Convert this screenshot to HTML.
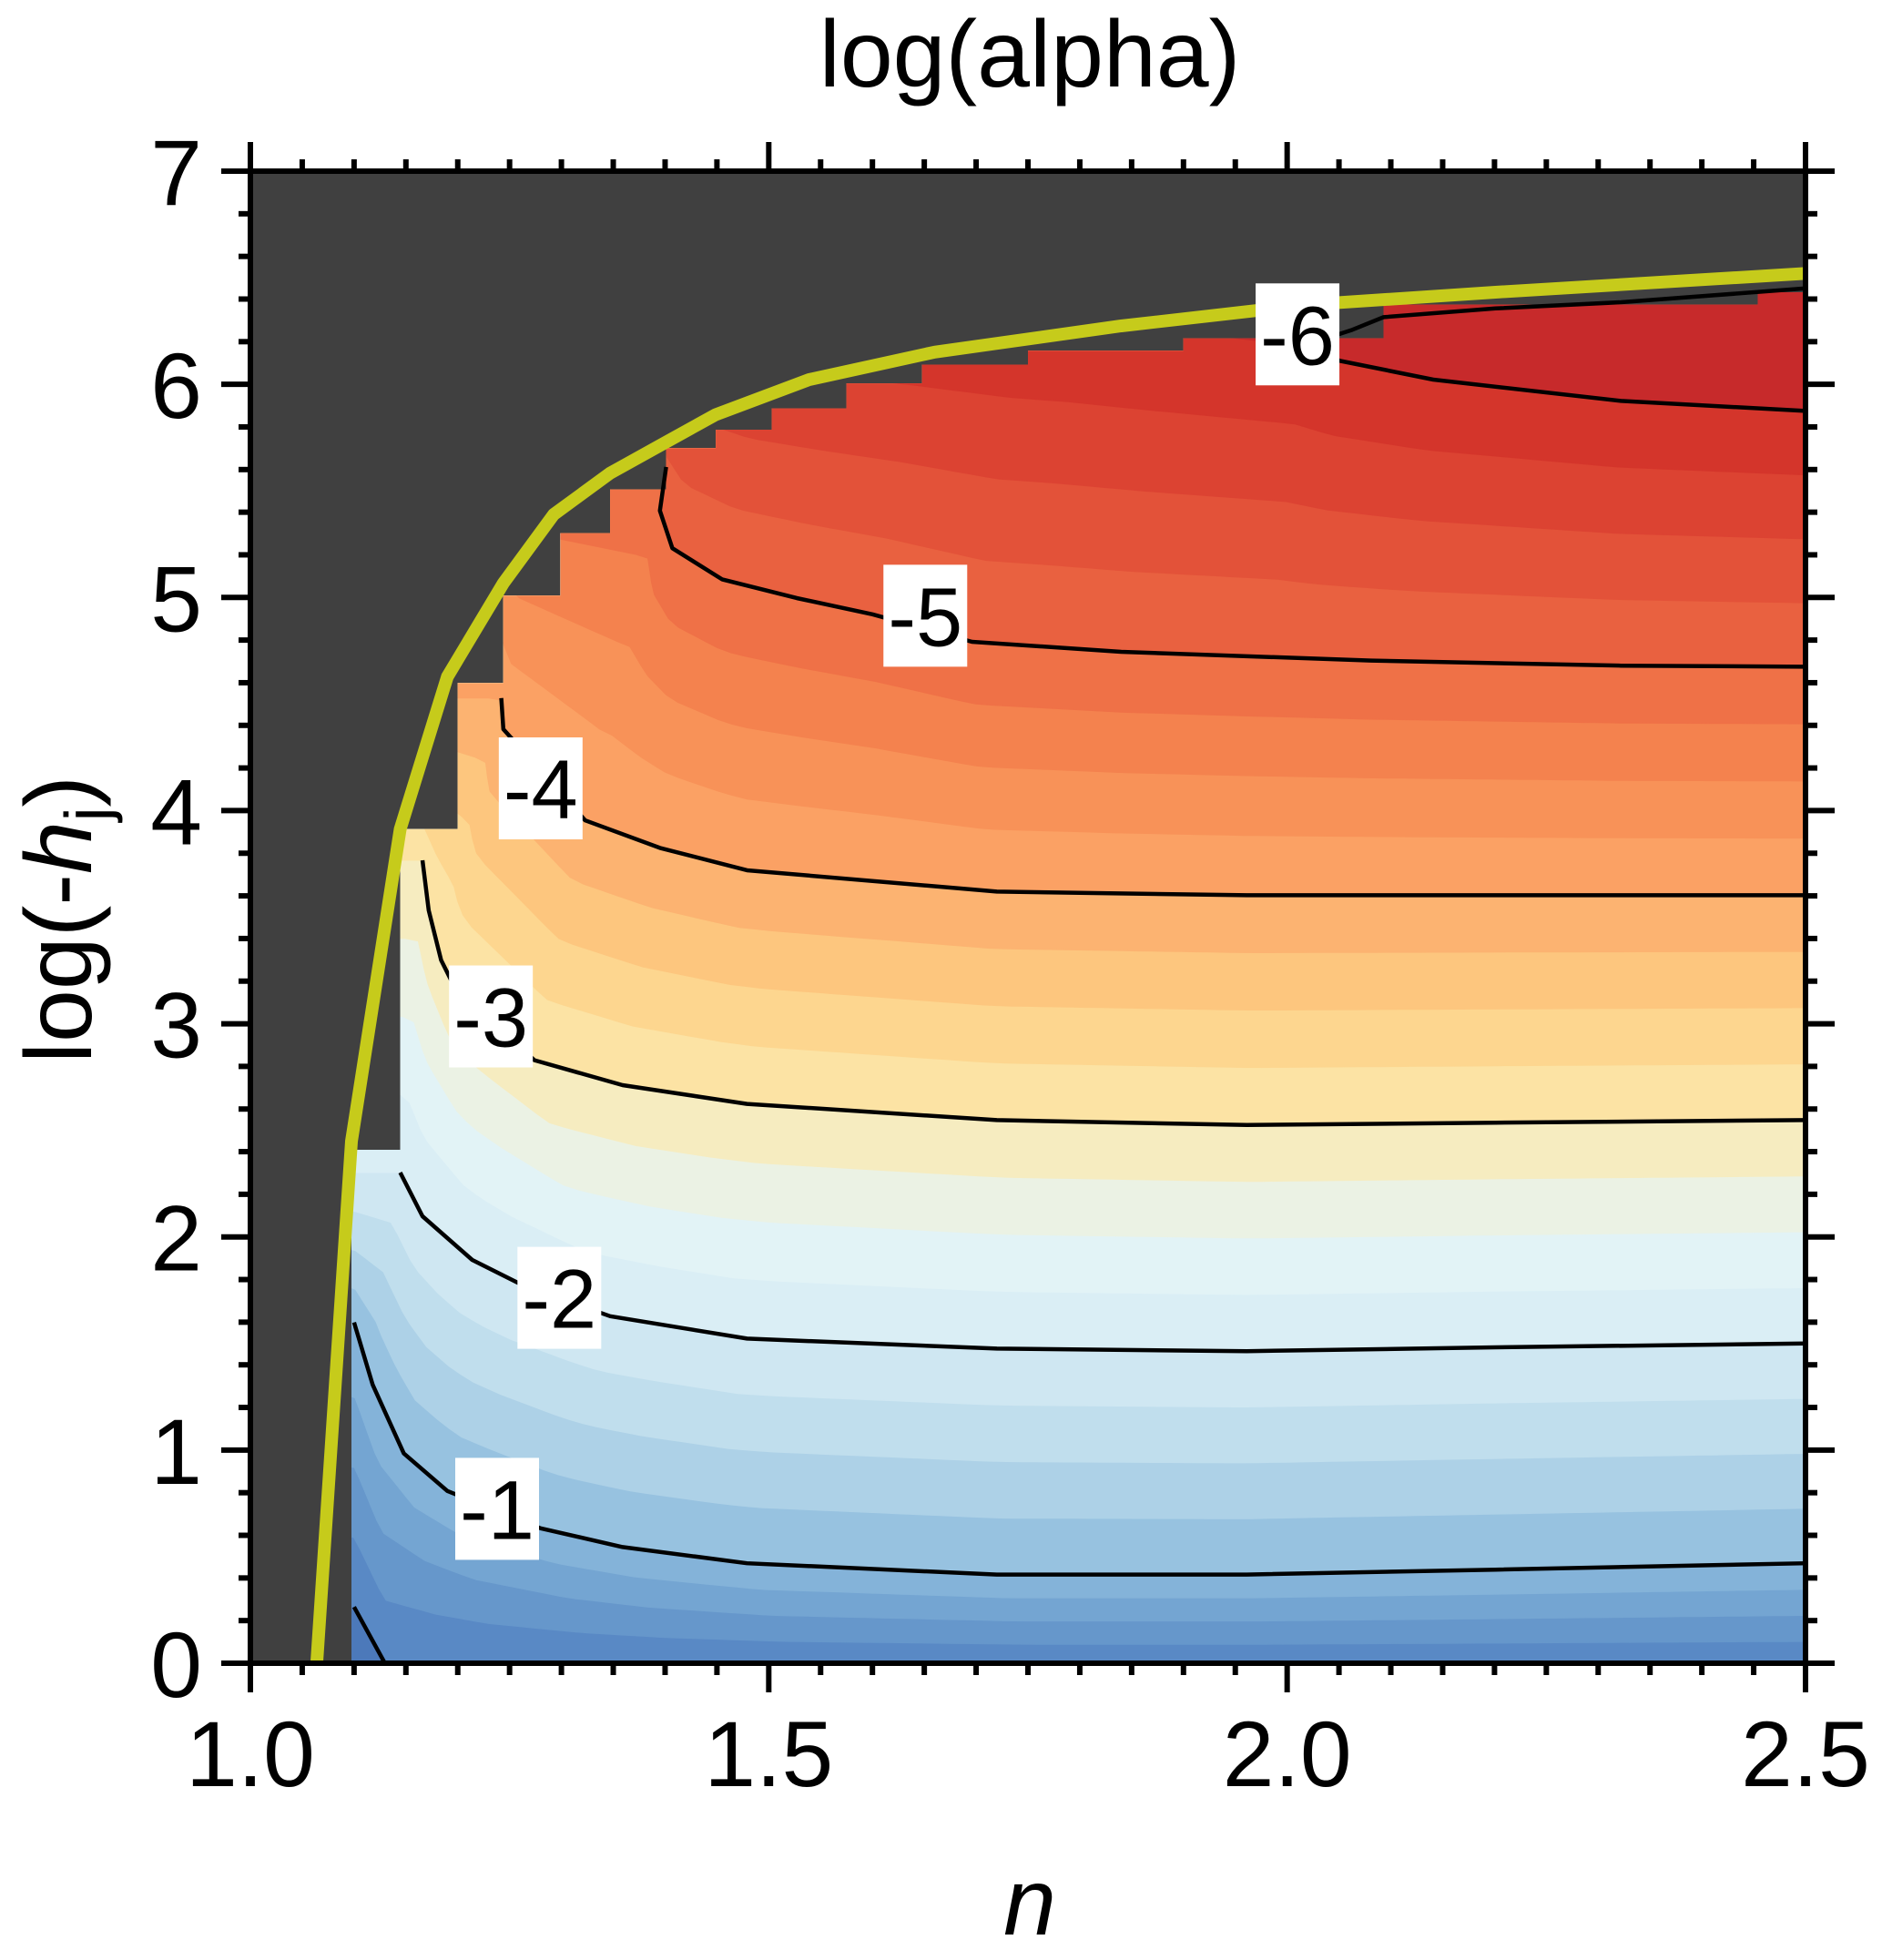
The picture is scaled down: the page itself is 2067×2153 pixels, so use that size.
<!DOCTYPE html>
<html><head><meta charset="utf-8"><style>
html,body{margin:0;padding:0;background:#fff}
svg text{font-family:"Liberation Sans",sans-serif;fill:#000}
</style></head><body>
<svg id="chart" width="2067" height="2148" viewBox="0 0 2067 2148" xmlns="http://www.w3.org/2000/svg">
<defs><clipPath id="plotClip"><rect x="275" y="188" width="1708" height="1639"/></clipPath>
<clipPath id="validClip"><polygon id="validPoly" points=""/></clipPath></defs>
<text x="1131" y="95" font-size="104" text-anchor="middle">log(alpha)</text>
<rect x="275" y="188" width="1708" height="1639" fill="#404040"/>
<g id="fills" clip-path="url(#validClip)"></g>
<g id="lines" clip-path="url(#plotClip)"></g>
<g id="boundary" clip-path="url(#plotClip)"></g>
<g id="labels"></g>
<g id="axes"></g>
<text x="1131" y="2125" font-size="104" font-style="italic" text-anchor="middle">n</text>
<text transform="translate(100,1010) rotate(-90)" font-size="104" text-anchor="middle">log(-<tspan font-style="italic">h</tspan><tspan font-size="70" dy="20">j</tspan><tspan dy="-20">)</tspan></text>
</svg>
<script>
const xTicks=[1.0,1.5,2.0,2.5];
const xTickLabels=["1.0","1.5","2.0","2.5"];
const yTicks=[0,1,2,3,4,5,6,7];
const yTickLabels=["0","1","2","3","4","5","6","7"];
const contourLevels=[0,-1,-2,-3,-4,-5,-6];
const line0=[[1.100,0.264],[1.132,-0.02],[2.5,-0.02]];
const lineM1=[[1.100,1.599],[1.118,1.306],[1.148,0.984],[1.190,0.808],[1.280,0.633],[1.359,0.545],[1.479,0.469],[1.720,0.416],[1.961,0.416],[2.201,0.439],[2.5,0.469]];
const lineM2=[[1.1445,2.302],[1.166,2.097],[1.214,1.892],[1.262,1.775],[1.347,1.628],[1.479,1.523],[1.720,1.476],[1.961,1.464],[2.201,1.482],[2.5,1.500]];
const lineM3=[[1.166,3.767],[1.172,3.532],[1.184,3.298],[1.196,3.181],[1.274,2.829],[1.359,2.712],[1.479,2.624],[1.720,2.548],[1.961,2.525],[2.201,2.536],[2.5,2.548]];
const lineM4=[[1.242,4.528],[1.244,4.382],[1.323,3.954],[1.395,3.825],[1.479,3.720],[1.720,3.620],[1.961,3.603],[2.201,3.603],[2.5,3.603]];
const lineM5=[[1.401,5.612],[1.395,5.407],[1.407,5.231],[1.455,5.085],[1.527,4.997],[1.600,4.921],[1.696,4.792],[1.840,4.745],[2.081,4.704],[2.322,4.680],[2.5,4.675]];
const lineM6=[[2.5,6.450],[2.322,6.385],[2.201,6.356],[2.093,6.315],[2.063,6.256],[2.015,6.180],[2.051,6.110],[2.141,6.022],[2.322,5.922],[2.5,5.875]];
const fillM6=[[1.0,6.6],[1.8,6.3],[2.015,6.18],[2.051,6.110],[2.141,6.022],[2.322,5.922],[2.5,5.875]];
const validRegion=[[1.0975,0],[1.0975,2.408],[1.1445,2.408],[1.1445,3.913],[1.200,3.913],[1.200,4.598],[1.244,4.598],[1.244,5.008],[1.299,5.008],[1.299,5.301],[1.347,5.301],[1.347,5.506],[1.401,5.506],[1.401,5.700],[1.449,5.700],[1.449,5.787],[1.503,5.787],[1.503,5.887],[1.575,5.887],[1.575,6.004],[1.648,6.004],[1.648,6.092],[1.750,6.092],[1.750,6.157],[1.900,6.157],[1.900,6.215],[2.093,6.215],[2.093,6.373],[2.454,6.373],[2.454,6.432],[2.5,6.432],[2.5,0]];
const boundaryCurve=[[1.064,0],[1.0975,2.449],[1.1445,3.913],[1.190,4.628],[1.244,5.067],[1.2925,5.389],[1.347,5.583],[1.401,5.729],[1.449,5.858],[1.539,6.022],[1.660,6.151],[1.840,6.274],[2.021,6.374],[2.201,6.432],[2.5,6.52]];
const labelText=["-1","-2","-3","-4","-5","-6"];
const labelPos=[[1.238,0.72],[1.298,1.71],[1.232,3.03],[1.280,4.10],[1.651,4.91],[2.010,6.23]];

const NS="http://www.w3.org/2000/svg";
const X0=275,X1=1983,Y0=1827,Y1=188;
const X=n=>X0+(n-1)/1.5*(X1-X0);
const Y=h=>Y0-h/7*(Y0-Y1);
function mk(tag,attrs,parent){const e=document.createElementNS(NS,tag);for(const k in attrs)e.setAttribute(k,attrs[k]);parent.appendChild(e);return e;}
const stops=[[0.3,[70,112,178]],[0,[82,130,194]],[-0.5,[108,158,206]],[-1,[140,186,220]],[-1.5,[184,217,235]],[-2,[214,235,244]],[-2.5,[230,245,246]],[-3,[251,233,174]],[-3.5,[253,208,133]],[-4,[252,169,106]],[-4.5,[247,138,82]],[-5,[236,104,67]],[-5.5,[224,74,53]],[-6,[208,46,39]],[-6.5,[193,39,45]]];
function color(v){for(let i=0;i<stops.length-1;i++){const a=stops[i],b=stops[i+1];if(v<=a[0]&&v>=b[0]){const t=(a[0]-v)/(a[0]-b[0]);const c=a[1].map((x,j)=>Math.round(x+(b[1][j]-x)*t));return`rgb(${c})`;}}return v>0?`rgb(${stops[0][1]})`:`rgb(${stops[stops.length-1][1]})`;}
function toPx(p){return p.map(q=>[X(q[0]),Y(q[1])]);}
function resample(pts,N){const d=[0];for(let i=1;i<pts.length;i++)d.push(d[i-1]+Math.hypot(pts[i][0]-pts[i-1][0],pts[i][1]-pts[i-1][1]));const L=d[d.length-1],out=[];let j=0;for(let k=0;k<N;k++){const s=L*k/(N-1);while(j<pts.length-2&&d[j+1]<s)j++;const t=(s-d[j])/((d[j+1]-d[j])||1);out.push([pts[j][0]+(pts[j+1][0]-pts[j][0])*t,pts[j][1]+(pts[j+1][1]-pts[j][1])*t]);}return out;}
document.getElementById('validPoly').setAttribute('points',toPx(validRegion).map(p=>p.join(',')).join(' '));
const fills=document.getElementById('fills');
const fillLines=[line0,lineM1,lineM2,lineM3,lineM4,lineM5,fillM6].map(l=>{const p=toPx(l);p.unshift([X0-60,p[0][1]]);p.push([X1+60,p[p.length-1][1]]);return resample(p,120);});
function above(curve,fillc,name){const pts=curve.slice();pts.push([X1+60,Y1-100]);pts.push([X0-60,Y1-100]);const e=mk('polygon',{points:pts.map(p=>p[0].toFixed(1)+','+p[1].toFixed(1)).join(' '),fill:fillc,stroke:fillc,'stroke-width':1},fills);

}
const base=mk('rect',{x:X0,y:Y1,width:X1-X0,height:Y0-Y1,fill:color(0.15)},fills);


for(let k=0;k<contourLevels.length-1;k++){const A=fillLines[k],B=fillLines[k+1];for(let s=0;s<4;s++){const t=s/4;const c=A.map((p,i)=>[p[0]+(B[i][0]-p[0])*t,p[1]+(B[i][1]-p[1])*t]);above(c,color(contourLevels[k]-(s+0.5)/4),'fill-band');}}
above(fillLines[6],color(-6.3),'fill-band-top');
const lines=document.getElementById('lines');
[line0,lineM1,lineM2,lineM3,lineM4,lineM5,lineM6].forEach((l,i)=>{const e=mk('polyline',{points:toPx(l).map(p=>p.join(',')).join(' '),fill:'none',stroke:'#000','stroke-width':4.5,'stroke-linejoin':'round'},lines);

});
const bd=document.getElementById('boundary');
const bc=mk('polyline',{points:toPx(boundaryCurve).map(p=>p.join(',')).join(' '),fill:'none',stroke:'#c6cb1b','stroke-width':14,'stroke-linejoin':'round'},bd);


const lb=document.getElementById('labels');
labelText.forEach((t,i)=>{const cx=X(labelPos[i][0]),cy=Y(labelPos[i][1]);const r=mk('rect',{x:cx-46,y:cy-57,width:92,height:112,fill:'#fff'},lb);


const tx=mk('text',{x:cx,y:cy+32,'font-size':92,'text-anchor':'middle'},lb);tx.textContent=t;

});
const ax=document.getElementById('axes');
const fr=mk('rect',{x:X0,y:Y1,width:X1-X0,height:Y0-Y1,fill:'none',stroke:'#000','stroke-width':6},ax);


function tk(x1,y1,x2,y2){const e=mk('line',{x1,y1,x2,y2,stroke:'#000','stroke-width':6},ax);

}
for(let i=0;i<=30;i++){const n=1+i*0.05,x=X(n),maj=i%10==0,L=maj?32:13;tk(x,Y0,x,Y0+L);tk(x,Y1,x,Y1-L);}
for(let i=0;i<=35;i++){const h=i*0.2,y=Y(h),maj=i%5==0,L=maj?32:13;tk(X0,y,X0-L,y);tk(X1,y,X1+L,y);}
xTicks.forEach((v,i)=>{const t=mk('text',{x:X(v),y:1962,'font-size':102,'text-anchor':'middle'},ax);t.textContent=xTickLabels[i];

});
yTicks.forEach((v,i)=>{const t=mk('text',{x:222,y:Y(v)+37,'font-size':102,'text-anchor':'end'},ax);t.textContent=yTickLabels[i];

});
</script>
</body></html>
